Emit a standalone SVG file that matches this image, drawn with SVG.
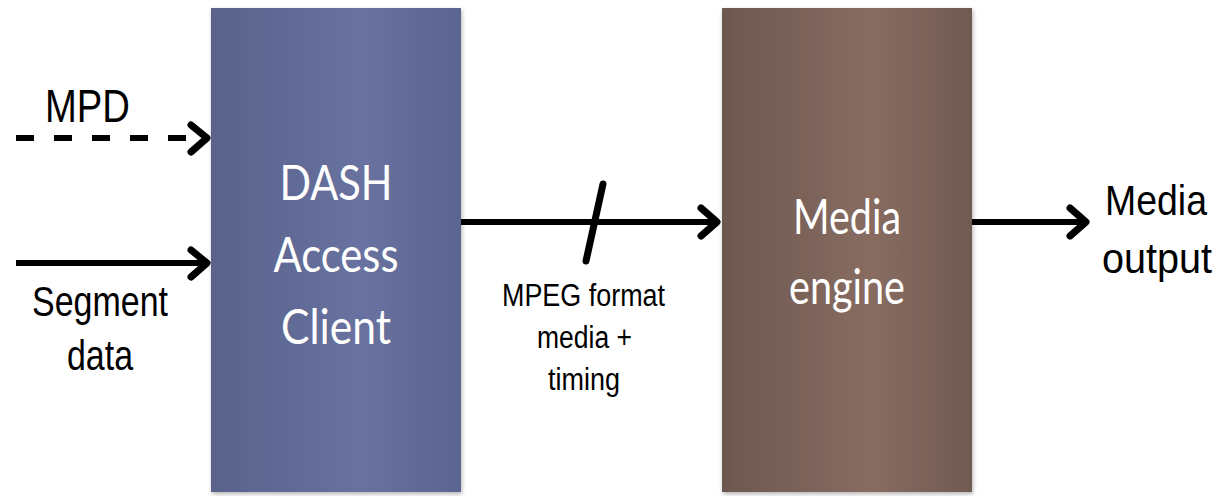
<svg xmlns="http://www.w3.org/2000/svg" width="1220" height="496" viewBox="0 0 1220 496">
<style>
.lbl{font-family:"Liberation Sans",Arial,sans-serif;fill:#000}
.box{font-family:"Lato","Open Sans",sans-serif;fill:#fff;font-size:49px;text-anchor:middle}
.ln{stroke:#000;stroke-width:6;fill:none}
.hd{stroke:#000;stroke-width:7;fill:none;stroke-linecap:round;stroke-linejoin:round}
</style>
<defs>
<linearGradient id="gb" x1="0" y1="0" x2="1" y2="0">
<stop offset="0" stop-color="#5a628a"/>
<stop offset="0.6" stop-color="#6872a0"/>
<stop offset="1" stop-color="#5c6590"/>
</linearGradient>
<linearGradient id="gr" x1="0" y1="0" x2="1" y2="0">
<stop offset="0" stop-color="#6c5850"/>
<stop offset="0.6" stop-color="#886c61"/>
<stop offset="1" stop-color="#705a52"/>
</linearGradient>
<filter id="sh" x="-5%" y="-5%" width="110%" height="110%"><feDropShadow dx="1" dy="2" stdDeviation="2" flood-opacity="0.3"/></filter>
</defs>
<rect width="1220" height="496" fill="#fff"/>
<g id="dash">
<rect x="211" y="8" width="250" height="484" fill="url(#gb)" filter="url(#sh)"/>
<text class="box" x="336" y="200" textLength="113" lengthAdjust="spacingAndGlyphs">DASH</text>
<text class="box" x="336" y="272" textLength="125" lengthAdjust="spacingAndGlyphs">Access</text>
<text class="box" x="336" y="344" textLength="110" lengthAdjust="spacingAndGlyphs">Client</text>
</g>
<g id="engine">
<rect x="722" y="8" width="250" height="484" fill="url(#gr)" filter="url(#sh)"/>
<text class="box" x="847" y="234" textLength="108" lengthAdjust="spacingAndGlyphs">Media</text>
<text class="box" x="847" y="304" textLength="116" lengthAdjust="spacingAndGlyphs">engine</text>
</g>
<g id="connectors">
<line class="ln" x1="16" y1="138" x2="206" y2="138" stroke-dasharray="18,20" stroke-width="7"/>
<polyline class="hd" points="191,125 207,138 191,152"/>
<line class="ln" x1="16" y1="263" x2="206" y2="263"/>
<polyline class="hd" points="191,250 207,263 191,277"/>
<line class="ln" x1="461" y1="222" x2="716" y2="222"/>
<polyline class="hd" points="701,208 717,222 701,236"/>
<line x1="603" y1="184" x2="586" y2="261" stroke="#000" stroke-width="7" stroke-linecap="round"/>
<line class="ln" x1="972" y1="222" x2="1085" y2="222"/>
<polyline class="hd" points="1070,208 1086,222 1070,236"/>
</g>
<g id="labels">
<text class="lbl" x="45" y="122" font-size="46" textLength="85" lengthAdjust="spacingAndGlyphs">MPD</text>
<text class="lbl" x="32" y="316" font-size="42" textLength="136" lengthAdjust="spacingAndGlyphs">Segment</text>
<text class="lbl" x="67" y="370" font-size="42" textLength="66" lengthAdjust="spacingAndGlyphs">data</text>
<text class="lbl" x="502" y="306" font-size="31" textLength="163" lengthAdjust="spacingAndGlyphs">MPEG format</text>
<text class="lbl" x="537" y="348" font-size="31" textLength="95" lengthAdjust="spacingAndGlyphs">media +</text>
<text class="lbl" x="548" y="390" font-size="31" textLength="72" lengthAdjust="spacingAndGlyphs">timing</text>
<text class="lbl" x="1105" y="215" font-size="42" textLength="102" lengthAdjust="spacingAndGlyphs">Media</text>
<text class="lbl" x="1102" y="273" font-size="42" textLength="110" lengthAdjust="spacingAndGlyphs">output</text>
</g>
</svg>
